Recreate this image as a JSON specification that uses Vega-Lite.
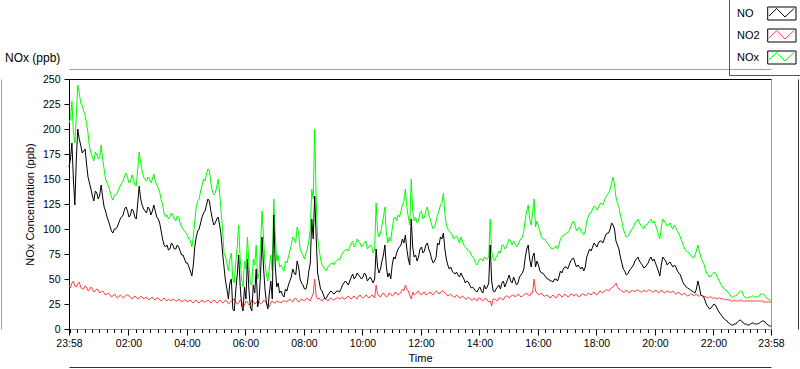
{
  "$schema": "https://vega.github.io/schema/vega-lite/v6.json",
  "width": 702,
  "height": 250,
  "autosize": {"type": "none"},
  "padding": {"left": 69, "top": 79, "right": 29, "bottom": 40},
  "background": "white",
  "title": {"text": "NOx (ppb)", "anchor": "start", "frame": "group", "dx": -64, "dy": 68, "offset": 2, "fontSize": 12, "fontWeight": "normal", "font": "Liberation Sans", "color": "#000000"},
  "config": {
    "view": {"stroke": "#000000"},
    "font": "Liberation Sans",
    "axis": {"labelFont": "Liberation Sans", "labelFontSize": 10.5, "labelColor": "#000000", "titleFont": "Liberation Sans", "titleFontSize": 11, "titleFontWeight": "normal", "titleColor": "#000000", "tickColor": "#000000", "domainColor": "#000000", "grid": false, "labelOverlap": false},
    "legend": {"labelFont": "Liberation Sans", "labelFontSize": 11}
  },
  "datasets": {
    "nox": [
{"t":0,"NO":162,"NO2":44,"NOx":206},
{"t":3,"NO":170,"NO2":41,"NOx":210},
{"t":6,"NO":186,"NO2":46,"NOx":228},
{"t":9,"NO":150,"NO2":48,"NOx":198},
{"t":12,"NO":124,"NO2":43,"NOx":186},
{"t":15,"NO":170,"NO2":42,"NOx":214},
{"t":18,"NO":200,"NO2":45,"NOx":244},
{"t":21,"NO":190,"NO2":47,"NOx":236},
{"t":24,"NO":184,"NO2":42,"NOx":226},
{"t":27,"NO":176,"NO2":40,"NOx":224},
{"t":30,"NO":178,"NO2":40,"NOx":218},
{"t":33,"NO":180,"NO2":43,"NOx":214},
{"t":36,"NO":165,"NO2":42,"NOx":206},
{"t":39,"NO":152,"NO2":38,"NOx":196},
{"t":42,"NO":146,"NO2":39,"NOx":182},
{"t":45,"NO":140,"NO2":42,"NOx":176},
{"t":48,"NO":133,"NO2":40,"NOx":172},
{"t":51,"NO":128,"NO2":37,"NOx":168},
{"t":54,"NO":138,"NO2":38,"NOx":177},
{"t":57,"NO":136,"NO2":40,"NOx":174},
{"t":60,"NO":130,"NO2":39,"NOx":170},
{"t":63,"NO":134,"NO2":36,"NOx":172},
{"t":66,"NO":144,"NO2":37,"NOx":184},
{"t":69,"NO":132,"NO2":38,"NOx":170},
{"t":72,"NO":122,"NO2":36,"NOx":160},
{"t":75,"NO":118,"NO2":34,"NOx":150},
{"t":78,"NO":112,"NO2":35,"NOx":146},
{"t":81,"NO":108,"NO2":36,"NOx":143},
{"t":84,"NO":103,"NO2":34,"NOx":138},
{"t":87,"NO":98,"NO2":32,"NOx":132},
{"t":90,"NO":96,"NO2":33,"NOx":129},
{"t":93,"NO":100,"NO2":35,"NOx":134},
{"t":96,"NO":100,"NO2":33,"NOx":134},
{"t":99,"NO":102,"NO2":31,"NOx":136},
{"t":102,"NO":106,"NO2":32,"NOx":140},
{"t":105,"NO":110,"NO2":34,"NOx":143},
{"t":108,"NO":112,"NO2":33,"NOx":146},
{"t":111,"NO":114,"NO2":31,"NOx":148},
{"t":114,"NO":120,"NO2":32,"NOx":153},
{"t":117,"NO":122,"NO2":34,"NOx":156},
{"t":120,"NO":118,"NO2":34,"NOx":152},
{"t":123,"NO":112,"NO2":33,"NOx":146},
{"t":126,"NO":114,"NO2":32,"NOx":147},
{"t":129,"NO":120,"NO2":30,"NOx":154},
{"t":132,"NO":118,"NO2":31,"NOx":150},
{"t":135,"NO":112,"NO2":33,"NOx":144},
{"t":138,"NO":110,"NO2":32,"NOx":143},
{"t":141,"NO":126,"NO2":30,"NOx":160},
{"t":144,"NO":143,"NO2":31,"NOx":177},
{"t":147,"NO":130,"NO2":33,"NOx":166},
{"t":150,"NO":124,"NO2":32,"NOx":158},
{"t":153,"NO":120,"NO2":30,"NOx":152},
{"t":156,"NO":118,"NO2":31,"NOx":150},
{"t":159,"NO":116,"NO2":32,"NOx":148},
{"t":162,"NO":122,"NO2":30,"NOx":152},
{"t":165,"NO":120,"NO2":29,"NOx":150},
{"t":168,"NO":114,"NO2":31,"NOx":146},
{"t":171,"NO":118,"NO2":32,"NOx":150},
{"t":174,"NO":124,"NO2":30,"NOx":155},
{"t":177,"NO":118,"NO2":29,"NOx":148},
{"t":180,"NO":112,"NO2":31,"NOx":144},
{"t":183,"NO":110,"NO2":31,"NOx":141},
{"t":186,"NO":106,"NO2":29,"NOx":137},
{"t":189,"NO":98,"NO2":28,"NOx":130},
{"t":192,"NO":90,"NO2":30,"NOx":124},
{"t":195,"NO":84,"NO2":31,"NOx":116},
{"t":198,"NO":82,"NO2":29,"NOx":112},
{"t":201,"NO":84,"NO2":28,"NOx":114},
{"t":204,"NO":79,"NO2":30,"NOx":110},
{"t":207,"NO":80,"NO2":29,"NOx":112},
{"t":210,"NO":86,"NO2":28,"NOx":116},
{"t":213,"NO":84,"NO2":30,"NOx":114},
{"t":216,"NO":80,"NO2":29,"NOx":110},
{"t":219,"NO":80,"NO2":28,"NOx":108},
{"t":222,"NO":84,"NO2":28,"NOx":113},
{"t":225,"NO":82,"NO2":30,"NOx":112},
{"t":228,"NO":78,"NO2":29,"NOx":106},
{"t":231,"NO":74,"NO2":27,"NOx":102},
{"t":234,"NO":74,"NO2":28,"NOx":100},
{"t":237,"NO":70,"NO2":29,"NOx":98},
{"t":240,"NO":66,"NO2":29,"NOx":96},
{"t":243,"NO":66,"NO2":27,"NOx":94},
{"t":246,"NO":62,"NO2":28,"NOx":90},
{"t":249,"NO":58,"NO2":29,"NOx":88},
{"t":252,"NO":53,"NO2":27,"NOx":82},
{"t":255,"NO":64,"NO2":26,"NOx":92},
{"t":258,"NO":82,"NO2":28,"NOx":108},
{"t":261,"NO":92,"NO2":29,"NOx":122},
{"t":264,"NO":98,"NO2":27,"NOx":128},
{"t":267,"NO":100,"NO2":26,"NOx":130},
{"t":270,"NO":106,"NO2":28,"NOx":138},
{"t":273,"NO":112,"NO2":29,"NOx":144},
{"t":276,"NO":116,"NO2":27,"NOx":150},
{"t":279,"NO":118,"NO2":27,"NOx":148},
{"t":282,"NO":124,"NO2":28,"NOx":155},
{"t":285,"NO":130,"NO2":29,"NOx":160},
{"t":288,"NO":128,"NO2":28,"NOx":158},
{"t":291,"NO":118,"NO2":26,"NOx":146},
{"t":294,"NO":110,"NO2":27,"NOx":138},
{"t":297,"NO":104,"NO2":29,"NOx":134},
{"t":300,"NO":106,"NO2":28,"NOx":136},
{"t":303,"NO":110,"NO2":26,"NOx":142},
{"t":306,"NO":112,"NO2":27,"NOx":150},
{"t":309,"NO":104,"NO2":29,"NOx":136},
{"t":312,"NO":94,"NO2":28,"NOx":118},
{"t":315,"NO":76,"NO2":26,"NOx":100},
{"t":318,"NO":62,"NO2":27,"NOx":76},
{"t":321,"NO":48,"NO2":29,"NOx":72},
{"t":324,"NO":40,"NO2":28,"NOx":66},
{"t":327,"NO":30,"NO2":25,"NOx":58},
{"t":330,"NO":46,"NO2":26,"NOx":70},
{"t":333,"NO":50,"NO2":28,"NOx":76},
{"t":336,"NO":20,"NO2":29,"NOx":50},
{"t":339,"NO":18,"NO2":30,"NOx":46},
{"t":342,"NO":38,"NO2":27,"NOx":66},
{"t":345,"NO":54,"NO2":25,"NOx":82},
{"t":348,"NO":74,"NO2":26,"NOx":104},
{"t":351,"NO":44,"NO2":29,"NOx":72},
{"t":354,"NO":24,"NO2":28,"NOx":50},
{"t":357,"NO":18,"NO2":22,"NOx":42},
{"t":360,"NO":42,"NO2":24,"NOx":68},
{"t":363,"NO":30,"NO2":28,"NOx":60},
{"t":366,"NO":70,"NO2":27,"NOx":92},
{"t":369,"NO":40,"NO2":24,"NOx":66},
{"t":372,"NO":22,"NO2":25,"NOx":46},
{"t":375,"NO":18,"NO2":29,"NOx":44},
{"t":378,"NO":44,"NO2":28,"NOx":70},
{"t":381,"NO":36,"NO2":25,"NOx":64},
{"t":384,"NO":60,"NO2":26,"NOx":84},
{"t":387,"NO":22,"NO2":28,"NOx":50},
{"t":390,"NO":30,"NO2":27,"NOx":56},
{"t":393,"NO":56,"NO2":25,"NOx":84},
{"t":396,"NO":92,"NO2":26,"NOx":118},
{"t":399,"NO":62,"NO2":29,"NOx":92},
{"t":402,"NO":40,"NO2":28,"NOx":66},
{"t":405,"NO":26,"NO2":26,"NOx":54},
{"t":408,"NO":20,"NO2":24,"NOx":48},
{"t":411,"NO":36,"NO2":22,"NOx":62},
{"t":414,"NO":48,"NO2":27,"NOx":74},
{"t":417,"NO":30,"NO2":28,"NOx":58},
{"t":420,"NO":114,"NO2":26,"NOx":130},
{"t":423,"NO":64,"NO2":26,"NOx":96},
{"t":426,"NO":42,"NO2":28,"NOx":68},
{"t":429,"NO":46,"NO2":27,"NOx":74},
{"t":432,"NO":36,"NO2":27,"NOx":62},
{"t":435,"NO":38,"NO2":26,"NOx":64},
{"t":438,"NO":34,"NO2":28,"NOx":60},
{"t":441,"NO":32,"NO2":28,"NOx":58},
{"t":444,"NO":40,"NO2":28,"NOx":68},
{"t":447,"NO":38,"NO2":27,"NOx":66},
{"t":450,"NO":44,"NO2":29,"NOx":72},
{"t":453,"NO":48,"NO2":30,"NOx":78},
{"t":456,"NO":52,"NO2":28,"NOx":84},
{"t":459,"NO":60,"NO2":27,"NOx":92},
{"t":462,"NO":56,"NO2":30,"NOx":90},
{"t":465,"NO":54,"NO2":31,"NOx":86},
{"t":468,"NO":68,"NO2":29,"NOx":102},
{"t":471,"NO":62,"NO2":27,"NOx":96},
{"t":474,"NO":50,"NO2":28,"NOx":80},
{"t":477,"NO":46,"NO2":30,"NOx":76},
{"t":480,"NO":44,"NO2":29,"NOx":74},
{"t":483,"NO":40,"NO2":28,"NOx":70},
{"t":486,"NO":40,"NO2":30,"NOx":76},
{"t":489,"NO":46,"NO2":31,"NOx":80},
{"t":492,"NO":58,"NO2":29,"NOx":88},
{"t":495,"NO":66,"NO2":28,"NOx":100},
{"t":498,"NO":110,"NO2":32,"NOx":140},
{"t":501,"NO":90,"NO2":35,"NOx":130},
{"t":504,"NO":133,"NO2":50,"NOx":200},
{"t":507,"NO":92,"NO2":33,"NOx":130},
{"t":510,"NO":56,"NO2":30,"NOx":90},
{"t":513,"NO":48,"NO2":31,"NOx":80},
{"t":516,"NO":40,"NO2":29,"NOx":70},
{"t":519,"NO":38,"NO2":28,"NOx":64},
{"t":522,"NO":34,"NO2":30,"NOx":62},
{"t":525,"NO":30,"NO2":31,"NOx":60},
{"t":528,"NO":31,"NO2":29,"NOx":58},
{"t":531,"NO":34,"NO2":28,"NOx":62},
{"t":534,"NO":36,"NO2":30,"NOx":64},
{"t":537,"NO":38,"NO2":31,"NOx":65},
{"t":540,"NO":37,"NO2":30,"NOx":66},
{"t":543,"NO":35,"NO2":29,"NOx":64},
{"t":546,"NO":36,"NO2":30,"NOx":67},
{"t":549,"NO":38,"NO2":31,"NOx":68},
{"t":552,"NO":38,"NO2":31,"NOx":70},
{"t":555,"NO":37,"NO2":30,"NOx":69},
{"t":558,"NO":40,"NO2":31,"NOx":73},
{"t":561,"NO":44,"NO2":32,"NOx":76},
{"t":564,"NO":46,"NO2":30,"NOx":78},
{"t":567,"NO":48,"NO2":30,"NOx":79},
{"t":570,"NO":46,"NO2":32,"NOx":80},
{"t":573,"NO":44,"NO2":33,"NOx":78},
{"t":576,"NO":48,"NO2":31,"NOx":82},
{"t":579,"NO":52,"NO2":30,"NOx":86},
{"t":582,"NO":55,"NO2":32,"NOx":88},
{"t":585,"NO":50,"NO2":33,"NOx":82},
{"t":588,"NO":52,"NO2":31,"NOx":85},
{"t":591,"NO":56,"NO2":30,"NOx":90},
{"t":594,"NO":54,"NO2":33,"NOx":88},
{"t":597,"NO":52,"NO2":34,"NOx":86},
{"t":600,"NO":50,"NO2":32,"NOx":82},
{"t":603,"NO":52,"NO2":31,"NOx":84},
{"t":606,"NO":56,"NO2":32,"NOx":86},
{"t":609,"NO":54,"NO2":34,"NOx":88},
{"t":612,"NO":48,"NO2":33,"NOx":80},
{"t":615,"NO":50,"NO2":31,"NOx":82},
{"t":618,"NO":52,"NO2":32,"NOx":84},
{"t":621,"NO":49,"NO2":34,"NOx":82},
{"t":624,"NO":46,"NO2":33,"NOx":76},
{"t":627,"NO":50,"NO2":31,"NOx":80},
{"t":630,"NO":80,"NO2":44,"NOx":126},
{"t":633,"NO":62,"NO2":35,"NOx":98},
{"t":636,"NO":56,"NO2":33,"NOx":92},
{"t":639,"NO":60,"NO2":32,"NOx":96},
{"t":642,"NO":68,"NO2":35,"NOx":104},
{"t":645,"NO":74,"NO2":36,"NOx":112},
{"t":648,"NO":84,"NO2":34,"NOx":122},
{"t":651,"NO":62,"NO2":32,"NOx":96},
{"t":654,"NO":52,"NO2":33,"NOx":86},
{"t":657,"NO":56,"NO2":36,"NOx":92},
{"t":660,"NO":50,"NO2":35,"NOx":88},
{"t":663,"NO":64,"NO2":33,"NOx":100},
{"t":666,"NO":72,"NO2":34,"NOx":110},
{"t":669,"NO":70,"NO2":37,"NOx":112},
{"t":672,"NO":76,"NO2":36,"NOx":108},
{"t":675,"NO":80,"NO2":34,"NOx":114},
{"t":678,"NO":82,"NO2":35,"NOx":112},
{"t":681,"NO":84,"NO2":37,"NOx":118},
{"t":684,"NO":90,"NO2":40,"NOx":124},
{"t":687,"NO":86,"NO2":38,"NOx":128},
{"t":690,"NO":94,"NO2":44,"NOx":140},
{"t":693,"NO":80,"NO2":40,"NOx":122},
{"t":696,"NO":70,"NO2":38,"NOx":112},
{"t":699,"NO":64,"NO2":34,"NOx":104},
{"t":702,"NO":110,"NO2":30,"NOx":150},
{"t":705,"NO":82,"NO2":37,"NOx":118},
{"t":708,"NO":72,"NO2":34,"NOx":108},
{"t":711,"NO":74,"NO2":35,"NOx":112},
{"t":714,"NO":68,"NO2":37,"NOx":106},
{"t":717,"NO":72,"NO2":38,"NOx":108},
{"t":720,"NO":80,"NO2":35,"NOx":116},
{"t":723,"NO":82,"NO2":34,"NOx":118},
{"t":726,"NO":76,"NO2":36,"NOx":110},
{"t":729,"NO":78,"NO2":37,"NOx":112},
{"t":732,"NO":84,"NO2":34,"NOx":118},
{"t":735,"NO":86,"NO2":35,"NOx":122},
{"t":738,"NO":80,"NO2":36,"NOx":114},
{"t":741,"NO":76,"NO2":37,"NOx":110},
{"t":744,"NO":70,"NO2":35,"NOx":104},
{"t":747,"NO":66,"NO2":34,"NOx":100},
{"t":750,"NO":68,"NO2":36,"NOx":102},
{"t":753,"NO":72,"NO2":38,"NOx":108},
{"t":756,"NO":86,"NO2":37,"NOx":114},
{"t":759,"NO":84,"NO2":35,"NOx":118},
{"t":762,"NO":92,"NO2":36,"NOx":124},
{"t":765,"NO":90,"NO2":38,"NOx":126},
{"t":768,"NO":96,"NO2":38,"NOx":136},
{"t":771,"NO":80,"NO2":36,"NOx":116},
{"t":774,"NO":70,"NO2":35,"NOx":104},
{"t":777,"NO":64,"NO2":33,"NOx":100},
{"t":780,"NO":60,"NO2":34,"NOx":98},
{"t":783,"NO":62,"NO2":35,"NOx":96},
{"t":786,"NO":58,"NO2":33,"NOx":94},
{"t":789,"NO":56,"NO2":32,"NOx":90},
{"t":792,"NO":55,"NO2":32,"NOx":92},
{"t":795,"NO":57,"NO2":34,"NOx":93},
{"t":798,"NO":54,"NO2":33,"NOx":90},
{"t":801,"NO":52,"NO2":31,"NOx":86},
{"t":804,"NO":56,"NO2":31,"NOx":92},
{"t":807,"NO":53,"NO2":33,"NOx":88},
{"t":810,"NO":50,"NO2":32,"NOx":84},
{"t":813,"NO":46,"NO2":30,"NOx":82},
{"t":816,"NO":48,"NO2":30,"NOx":80},
{"t":819,"NO":47,"NO2":32,"NOx":78},
{"t":822,"NO":44,"NO2":31,"NOx":78},
{"t":825,"NO":41,"NO2":29,"NOx":74},
{"t":828,"NO":42,"NO2":29,"NOx":72},
{"t":831,"NO":40,"NO2":31,"NOx":70},
{"t":834,"NO":38,"NO2":30,"NOx":66},
{"t":837,"NO":37,"NO2":28,"NOx":64},
{"t":840,"NO":40,"NO2":31,"NOx":68},
{"t":843,"NO":42,"NO2":31,"NOx":70},
{"t":846,"NO":38,"NO2":29,"NOx":70},
{"t":849,"NO":36,"NO2":28,"NOx":68},
{"t":852,"NO":44,"NO2":30,"NOx":72},
{"t":855,"NO":40,"NO2":31,"NOx":70},
{"t":858,"NO":42,"NO2":29,"NOx":70},
{"t":861,"NO":46,"NO2":27,"NOx":72},
{"t":864,"NO":84,"NO2":28,"NOx":110},
{"t":867,"NO":48,"NO2":23,"NOx":78},
{"t":870,"NO":38,"NO2":30,"NOx":70},
{"t":873,"NO":37,"NO2":30,"NOx":68},
{"t":876,"NO":40,"NO2":29,"NOx":72},
{"t":879,"NO":42,"NO2":28,"NOx":74},
{"t":882,"NO":44,"NO2":31,"NOx":78},
{"t":885,"NO":40,"NO2":31,"NOx":76},
{"t":888,"NO":46,"NO2":30,"NOx":84},
{"t":891,"NO":48,"NO2":29,"NOx":84},
{"t":894,"NO":42,"NO2":32,"NOx":80},
{"t":897,"NO":46,"NO2":33,"NOx":82},
{"t":900,"NO":50,"NO2":33,"NOx":86},
{"t":903,"NO":54,"NO2":31,"NOx":90},
{"t":906,"NO":48,"NO2":32,"NOx":88},
{"t":909,"NO":46,"NO2":34,"NOx":84},
{"t":912,"NO":52,"NO2":34,"NOx":88},
{"t":915,"NO":48,"NO2":32,"NOx":86},
{"t":918,"NO":44,"NO2":33,"NOx":82},
{"t":921,"NO":46,"NO2":35,"NOx":84},
{"t":924,"NO":52,"NO2":34,"NOx":88},
{"t":927,"NO":54,"NO2":32,"NOx":90},
{"t":930,"NO":56,"NO2":33,"NOx":92},
{"t":933,"NO":60,"NO2":34,"NOx":98},
{"t":936,"NO":72,"NO2":35,"NOx":110},
{"t":939,"NO":80,"NO2":36,"NOx":118},
{"t":942,"NO":84,"NO2":34,"NOx":124},
{"t":945,"NO":70,"NO2":33,"NOx":110},
{"t":948,"NO":62,"NO2":36,"NOx":104},
{"t":951,"NO":72,"NO2":36,"NOx":116},
{"t":954,"NO":76,"NO2":50,"NOx":130},
{"t":957,"NO":62,"NO2":38,"NOx":102},
{"t":960,"NO":68,"NO2":36,"NOx":108},
{"t":963,"NO":64,"NO2":34,"NOx":102},
{"t":966,"NO":58,"NO2":35,"NOx":98},
{"t":969,"NO":56,"NO2":36,"NOx":92},
{"t":972,"NO":56,"NO2":34,"NOx":90},
{"t":975,"NO":54,"NO2":33,"NOx":90},
{"t":978,"NO":52,"NO2":33,"NOx":88},
{"t":981,"NO":50,"NO2":34,"NOx":86},
{"t":984,"NO":50,"NO2":32,"NOx":84},
{"t":987,"NO":48,"NO2":31,"NOx":82},
{"t":990,"NO":48,"NO2":33,"NOx":80},
{"t":993,"NO":47,"NO2":34,"NOx":80},
{"t":996,"NO":50,"NO2":32,"NOx":82},
{"t":999,"NO":50,"NO2":31,"NOx":83},
{"t":1002,"NO":48,"NO2":33,"NOx":80},
{"t":1005,"NO":52,"NO2":35,"NOx":84},
{"t":1008,"NO":58,"NO2":34,"NOx":90},
{"t":1011,"NO":56,"NO2":32,"NOx":92},
{"t":1014,"NO":60,"NO2":33,"NOx":94},
{"t":1017,"NO":62,"NO2":35,"NOx":94},
{"t":1020,"NO":62,"NO2":34,"NOx":96},
{"t":1023,"NO":60,"NO2":32,"NOx":96},
{"t":1026,"NO":64,"NO2":33,"NOx":98},
{"t":1029,"NO":68,"NO2":35,"NOx":102},
{"t":1032,"NO":70,"NO2":35,"NOx":106},
{"t":1035,"NO":71,"NO2":33,"NOx":108},
{"t":1038,"NO":66,"NO2":34,"NOx":104},
{"t":1041,"NO":62,"NO2":35,"NOx":98},
{"t":1044,"NO":64,"NO2":33,"NOx":100},
{"t":1047,"NO":62,"NO2":32,"NOx":102},
{"t":1050,"NO":60,"NO2":34,"NOx":98},
{"t":1053,"NO":62,"NO2":35,"NOx":96},
{"t":1056,"NO":58,"NO2":35,"NOx":94},
{"t":1059,"NO":62,"NO2":33,"NOx":98},
{"t":1062,"NO":72,"NO2":34,"NOx":108},
{"t":1065,"NO":76,"NO2":36,"NOx":112},
{"t":1068,"NO":80,"NO2":35,"NOx":116},
{"t":1071,"NO":78,"NO2":34,"NOx":116},
{"t":1074,"NO":82,"NO2":36,"NOx":120},
{"t":1077,"NO":86,"NO2":37,"NOx":123},
{"t":1080,"NO":84,"NO2":35,"NOx":122},
{"t":1083,"NO":82,"NO2":34,"NOx":119},
{"t":1086,"NO":86,"NO2":36,"NOx":122},
{"t":1089,"NO":88,"NO2":38,"NOx":125},
{"t":1092,"NO":88,"NO2":37,"NOx":126},
{"t":1095,"NO":86,"NO2":36,"NOx":124},
{"t":1098,"NO":90,"NO2":38,"NOx":128},
{"t":1101,"NO":94,"NO2":39,"NOx":132},
{"t":1104,"NO":96,"NO2":39,"NOx":134},
{"t":1107,"NO":96,"NO2":38,"NOx":136},
{"t":1110,"NO":100,"NO2":40,"NOx":140},
{"t":1113,"NO":106,"NO2":41,"NOx":146},
{"t":1116,"NO":104,"NO2":42,"NOx":152},
{"t":1119,"NO":100,"NO2":44,"NOx":144},
{"t":1122,"NO":88,"NO2":46,"NOx":132},
{"t":1125,"NO":84,"NO2":42,"NOx":126},
{"t":1128,"NO":80,"NO2":40,"NOx":122},
{"t":1131,"NO":72,"NO2":39,"NOx":114},
{"t":1134,"NO":66,"NO2":38,"NOx":108},
{"t":1137,"NO":60,"NO2":37,"NOx":100},
{"t":1140,"NO":58,"NO2":37,"NOx":96},
{"t":1143,"NO":54,"NO2":39,"NOx":92},
{"t":1146,"NO":55,"NO2":38,"NOx":93},
{"t":1149,"NO":58,"NO2":36,"NOx":94},
{"t":1152,"NO":60,"NO2":37,"NOx":98},
{"t":1155,"NO":62,"NO2":39,"NOx":100},
{"t":1158,"NO":64,"NO2":38,"NOx":102},
{"t":1161,"NO":68,"NO2":37,"NOx":106},
{"t":1164,"NO":70,"NO2":39,"NOx":108},
{"t":1167,"NO":72,"NO2":39,"NOx":110},
{"t":1170,"NO":68,"NO2":38,"NOx":106},
{"t":1173,"NO":66,"NO2":37,"NOx":104},
{"t":1176,"NO":64,"NO2":37,"NOx":102},
{"t":1179,"NO":61,"NO2":39,"NOx":100},
{"t":1182,"NO":62,"NO2":38,"NOx":104},
{"t":1185,"NO":64,"NO2":37,"NOx":104},
{"t":1188,"NO":66,"NO2":39,"NOx":106},
{"t":1191,"NO":70,"NO2":39,"NOx":108},
{"t":1194,"NO":72,"NO2":38,"NOx":110},
{"t":1197,"NO":68,"NO2":37,"NOx":106},
{"t":1200,"NO":70,"NO2":37,"NOx":108},
{"t":1203,"NO":66,"NO2":39,"NOx":104},
{"t":1206,"NO":62,"NO2":38,"NOx":100},
{"t":1209,"NO":58,"NO2":36,"NOx":94},
{"t":1212,"NO":53,"NO2":37,"NOx":90},
{"t":1215,"NO":64,"NO2":39,"NOx":102},
{"t":1218,"NO":72,"NO2":38,"NOx":110},
{"t":1221,"NO":70,"NO2":36,"NOx":108},
{"t":1224,"NO":68,"NO2":37,"NOx":106},
{"t":1227,"NO":64,"NO2":38,"NOx":103},
{"t":1230,"NO":66,"NO2":38,"NOx":104},
{"t":1233,"NO":67,"NO2":36,"NOx":106},
{"t":1236,"NO":64,"NO2":37,"NOx":102},
{"t":1239,"NO":62,"NO2":38,"NOx":100},
{"t":1242,"NO":64,"NO2":36,"NOx":104},
{"t":1245,"NO":62,"NO2":35,"NOx":101},
{"t":1248,"NO":58,"NO2":36,"NOx":98},
{"t":1251,"NO":56,"NO2":37,"NOx":95},
{"t":1254,"NO":54,"NO2":35,"NOx":92},
{"t":1257,"NO":50,"NO2":34,"NOx":88},
{"t":1260,"NO":46,"NO2":35,"NOx":84},
{"t":1263,"NO":44,"NO2":36,"NOx":80},
{"t":1266,"NO":42,"NO2":34,"NOx":78},
{"t":1269,"NO":41,"NO2":33,"NOx":77},
{"t":1272,"NO":40,"NO2":34,"NOx":76},
{"t":1275,"NO":39,"NO2":35,"NOx":74},
{"t":1278,"NO":38,"NO2":35,"NOx":72},
{"t":1281,"NO":37,"NO2":33,"NOx":71},
{"t":1284,"NO":36,"NO2":34,"NOx":74},
{"t":1287,"NO":40,"NO2":35,"NOx":78},
{"t":1290,"NO":48,"NO2":33,"NOx":84},
{"t":1293,"NO":42,"NO2":33,"NOx":78},
{"t":1296,"NO":34,"NO2":34,"NOx":72},
{"t":1299,"NO":33,"NO2":33,"NOx":68},
{"t":1302,"NO":32,"NO2":33,"NOx":66},
{"t":1305,"NO":28,"NO2":32,"NOx":60},
{"t":1308,"NO":24,"NO2":32,"NOx":56},
{"t":1311,"NO":22,"NO2":31,"NOx":54},
{"t":1314,"NO":20,"NO2":32,"NOx":52},
{"t":1317,"NO":21,"NO2":32,"NOx":53},
{"t":1320,"NO":23,"NO2":31,"NOx":55},
{"t":1323,"NO":25,"NO2":31,"NOx":57},
{"t":1326,"NO":24,"NO2":31,"NOx":56},
{"t":1329,"NO":21,"NO2":30,"NOx":53},
{"t":1332,"NO":18,"NO2":31,"NOx":50},
{"t":1335,"NO":16,"NO2":31,"NOx":47},
{"t":1338,"NO":14,"NO2":30,"NOx":44},
{"t":1341,"NO":12,"NO2":30,"NOx":42},
{"t":1344,"NO":10,"NO2":30,"NOx":40},
{"t":1347,"NO":9,"NO2":29,"NOx":39},
{"t":1350,"NO":8,"NO2":30,"NOx":38},
{"t":1353,"NO":6,"NO2":29,"NOx":36},
{"t":1356,"NO":5,"NO2":29,"NOx":34},
{"t":1359,"NO":4,"NO2":28,"NOx":32},
{"t":1362,"NO":4,"NO2":28,"NOx":32},
{"t":1365,"NO":5,"NO2":29,"NOx":33},
{"t":1368,"NO":5,"NO2":28,"NOx":33},
{"t":1371,"NO":7,"NO2":28,"NOx":35},
{"t":1374,"NO":8,"NO2":28,"NOx":36},
{"t":1377,"NO":9,"NO2":29,"NOx":38},
{"t":1380,"NO":8,"NO2":28,"NOx":38},
{"t":1383,"NO":6,"NO2":28,"NOx":34},
{"t":1386,"NO":5,"NO2":28,"NOx":32},
{"t":1389,"NO":5,"NO2":28,"NOx":31},
{"t":1392,"NO":4,"NO2":28,"NOx":31},
{"t":1395,"NO":4,"NO2":28,"NOx":32},
{"t":1398,"NO":5,"NO2":28,"NOx":32},
{"t":1401,"NO":6,"NO2":28,"NOx":33},
{"t":1404,"NO":6,"NO2":28,"NOx":33},
{"t":1407,"NO":5,"NO2":28,"NOx":32},
{"t":1410,"NO":5,"NO2":28,"NOx":32},
{"t":1413,"NO":5,"NO2":28,"NOx":32},
{"t":1416,"NO":6,"NO2":28,"NOx":33},
{"t":1419,"NO":7,"NO2":28,"NOx":35},
{"t":1422,"NO":8,"NO2":28,"NOx":35},
{"t":1425,"NO":8,"NO2":27,"NOx":35},
{"t":1428,"NO":7,"NO2":27,"NOx":33},
{"t":1431,"NO":5,"NO2":27,"NOx":31},
{"t":1434,"NO":4,"NO2":27,"NOx":30},
{"t":1437,"NO":3,"NO2":27,"NOx":29},
{"t":1440,"NO":3,"NO2":27,"NOx":29}
    ]
  },
  "layer": [
    {
      "data": {"name": "nox"},
      "transform": [{"fold": ["NOx", "NO2", "NO"], "as": ["series", "ppb"]}],
      "mark": {"type": "line", "strokeWidth": 1},
      "encoding": {
        "x": {
          "field": "t", "type": "quantitative",
          "scale": {"domain": [0, 1440], "nice": false, "zero": false},
          "axis": {"orient": "bottom", "values": [0, 122, 242, 362, 482, 602, 722, 842, 962, 1082, 1202, 1322, 1440],
                   "labelExpr": "datum.value == 0 || datum.value == 1440 ? '23:58' : (datum.value < 600 ? '0' : '') + (datum.value - 2) / 60 + ':00'",
                   "title": "Time", "tickSize": 6, "labelPadding": 3, "titlePadding": 4, "domainColor": "#999999", "labelFlush": false}
        },
        "y": {
          "field": "ppb", "type": "quantitative",
          "scale": {"domain": [0, 250], "nice": false},
          "axis": {"orient": "left", "values": [0, 25, 50, 75, 100, 125, 150, 175, 200, 225, 250], "tickSize": 5, "labelPadding": 4, "title": "NOx Concentration (ppb)", "titlePadding": 7}
        },
        "color": {
          "field": "series", "type": "nominal",
          "scale": {"domain": ["NO", "NO2", "NOx"], "range": ["#000000", "#ff4040", "#00ff00"]},
          "legend": {"orient": "none", "legendX": 660, "legendY": -80, "title": null,
                     "symbolType": "M24.2,-6.5M52.5,6.5M25.5,2.5L33.2,-5L41.5,3.5L50.5,-5",
                     "symbolSize": 4, "symbolStrokeWidth": 1, "labelOffset": -12, "padding": 9, "rowPadding": 5,
                     "strokeColor": "#555555", "labelFontSize": 11, "labelColor": "#000000"}
        }
      }
    },
    {
      "data": {"values": []},
      "mark": {"type": "point", "filled": false, "color": "#000000", "opacity": 1, "strokeWidth": 1},
      "encoding": {
        "x": {"field": "t", "type": "quantitative",
              "axis": {"orient": "bottom", "values": [2,17,32,47,62,77,92,107,122,137,152,167,182,197,212,227,242,257,272,287,302,317,332,347,362,377,392,407,422,437,452,467,482,497,512,527,542,557,572,587,602,617,632,647,662,677,692,707,722,737,752,767,782,797,812,827,842,857,872,887,902,917,932,947,962,977,992,1007,1022,1037,1052,1067,1082,1097,1112,1127,1142,1157,1172,1187,1202,1217,1232,1247,1262,1277,1292,1307,1322,1337,1352,1367,1382,1397,1412,1427],
                       "labels": false, "title": null, "domain": false, "tickSize": 3.5}},
        "y": {"field": "ppb", "type": "quantitative",
              "axis": {"orient": "left", "offset": 68, "ticks": false, "labels": false, "title": null, "domainColor": "#a0a0a0"}},
        "shape": {"field": "box", "type": "nominal",
                  "scale": {"domain": ["b1", "b2", "b3"], "range": ["M24.2,-6.5H52.5V6.5H24.2Z", "M24.2,-6.5H52.5V6.5H24.2Z", "M24.2,-6.5H52.5V6.5H24.2Z"]},
                  "legend": {"orient": "none", "legendX": 660, "legendY": -80, "title": null,
                             "symbolSize": 4, "symbolStrokeWidth": 1, "symbolStrokeColor": "#000000", "symbolFillColor": "transparent",
                             "labelOffset": -12, "padding": 9, "rowPadding": 5, "labelFontSize": 11, "labelColor": "transparent",
                             "labelExpr": "' '"}}
      }
    },
    {
      "data": {"values": []},
      "mark": "point",
      "encoding": {
        "x": {"field": "t", "type": "quantitative",
              "axis": {"orient": "top", "offset": 10, "ticks": false, "labels": false, "title": null, "domainColor": "#a0a0a0"}},
        "y": {"field": "ppb", "type": "quantitative",
              "axis": {"orient": "right", "ticks": false, "labels": false, "title": null, "domainColor": "#999999"}}
      }
    },
    {
      "data": {"values": []},
      "mark": "point",
      "encoding": {
        "x": {"field": "t", "type": "quantitative",
              "axis": {"orient": "bottom", "offset": 38, "ticks": false, "labels": false, "title": null, "domainColor": "#333333"}},
        "y": {"field": "ppb", "type": "quantitative",
              "axis": {"orient": "right", "offset": 27, "ticks": false, "labels": false, "title": null, "domainColor": "#333333"}}
      }
    }
  ],
  "resolve": {"axis": {"x": "independent", "y": "independent"}}
}
